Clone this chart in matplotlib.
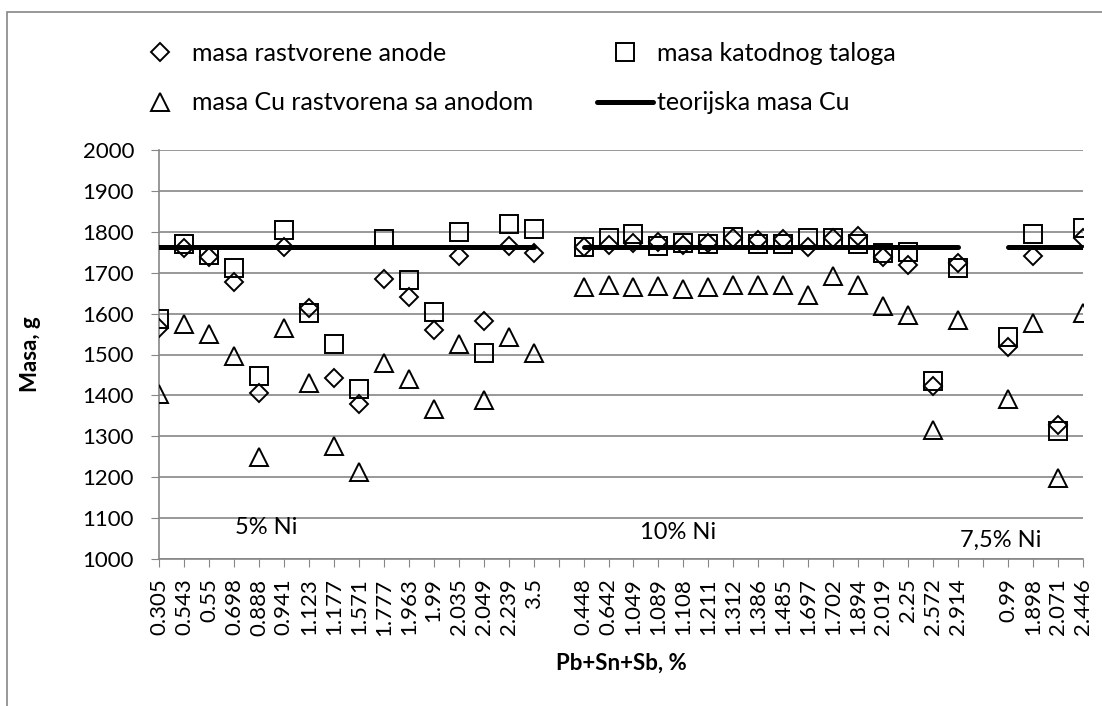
import numpy as np
import matplotlib.pyplot as plt
from matplotlib.patches import Rectangle

plt.rcParams['font.family'] = ['Lato', 'DejaVu Sans']

nan = np.nan

# x categories: three alloy groups separated by an empty slot
labels = ['0.305', '0.543', '0.55', '0.698', '0.888', '0.941', '1.123', '1.177',
          '1.571', '1.777', '1.963', '1.99', '2.035', '2.049', '2.239', '3.5', '',
          '0.448', '0.642', '1.049', '1.089', '1.108', '1.211', '1.312', '1.386',
          '1.485', '1.697', '1.702', '1.894', '2.019', '2.25', '2.572', '2.914', '',
          '0.99', '1.898', '2.071', '2.446']

anoda = [1564, 1760, 1738, 1678, 1405, 1764, 1613, 1442, 1378, 1684, 1640, 1560,
         1741, 1583, 1765, 1749, nan,
         1762, 1768, 1772, 1776, 1768, 1772, 1784, 1780, 1782, 1762, 1786, 1790,
         1739, 1719, 1423, 1723, nan,
         1519, 1741, 1328, 1784]

katoda = [1588, 1770, 1743, 1711, 1448, 1804, 1602, 1526, 1415, 1782, 1681, 1605,
          1799, 1504, 1819, 1808, nan,
          1762, 1786, 1794, 1765, 1772, 1770, 1788, 1770, 1770, 1786, 1786, 1770,
          1749, 1751, 1434, 1711, nan,
          1544, 1795, 1314, 1810]

cu_anoda = [1403, 1575, 1550, 1496, 1249, 1566, 1431, 1276, 1213, 1480, 1439, 1366,
            1526, 1389, 1542, 1503, nan,
            1664, 1669, 1666, 1667, 1661, 1664, 1669, 1669, 1671, 1645, 1691, 1669,
            1619, 1596, 1315, 1584, nan,
            1390, 1578, 1198, 1601]

teorija = [1762] * 16 + [nan] + [1762] * 16 + [nan] + [1762] * 4

grupe = ['5% Ni', '10% Ni', '7,5% Ni']

x = np.arange(len(labels))
gray = '#868686'

fig = plt.figure(figsize=(11.02, 7.06), dpi=100)
# chart frame (only top and left edges fall inside the image)
fig.patches.append(Rectangle((7 / 1102, -0.05), 1.2, 1.05 - 12 / 706,
                             transform=fig.transFigure, fill=False,
                             edgecolor=gray, lw=1.2, zorder=0))

ax = fig.add_axes([159 / 1102, 1 - 559 / 706, 924 / 1102, 409 / 706])

h1, = ax.plot(x, anoda, ls='none', marker='D', ms=9.5, mfc='none', mec='black',
              mew=1.4, label='masa rastvorene anode', zorder=3)
h2, = ax.plot(x, katoda, ls='none', marker='s', ms=13, mfc='none', mec='black',
              mew=1.4, label='masa katodnog taloga', zorder=3)
h3, = ax.plot(x, cu_anoda, ls='none', marker='^', ms=13, mfc='none', mec='black',
              mew=1.4, label='masa Cu rastvorena sa anodom', zorder=3)
h4, = ax.plot(x, teorija, color='black', lw=3.6, solid_capstyle='round',
              label='teorijska masa Cu', zorder=4)

ax.set_xlim(0, len(labels) - 1)
ax.set_ylim(1000, 2000)
ax.set_yticks(np.arange(1000, 2001, 100))
ax.set_xticks(x)
ax.set_xticklabels(labels, rotation=90, fontsize=16)
ax.tick_params(axis='y', labelsize=16, length=6, pad=12, color=gray, direction='out')
ax.tick_params(axis='x', length=6, pad=8, color=gray, direction='out')
ax.grid(axis='y', color=gray, lw=1.2)
ax.set_axisbelow(True)
for s in ['top', 'right']:
    ax.spines[s].set_visible(False)
for s in ['left', 'bottom']:
    ax.spines[s].set_color(gray)
    ax.spines[s].set_linewidth(1.2)

ax.set_ylabel('Masa, g', fontsize=16, fontweight='bold')
ax.yaxis.set_label_coords(-0.1396, 0.5)
ax.yaxis.label.set_va('center')
ax.set_xlabel('Pb+Sn+Sb, %', fontsize=16, fontweight='bold')
ax.xaxis.set_label_coords(0.5, -0.254)
ax.xaxis.label.set_va('center')

# group names inside the plot
ax.text(4.28, 1076, grupe[0], fontsize=17, ha='center', va='center')
ax.text(20.8, 1064, grupe[1], fontsize=17, ha='center', va='center')
ax.text(33.7, 1046, grupe[2], fontsize=17, ha='center', va='center')

# legend in two separate columns above the plot
leg_kw = dict(loc='upper left', frameon=False, fontsize=18, borderpad=0,
              borderaxespad=0, handlelength=2.25, handletextpad=0.15,
              labelspacing=1.05, numpoints=1)
fig.legend(handles=[h1, h3], bbox_transform=fig.transFigure,
           bbox_to_anchor=(132 / 1102, 1 - 42 / 706), **leg_kw)
fig.legend(handles=[h2, h4], bbox_transform=fig.transFigure,
           bbox_to_anchor=(597 / 1102, 1 - 42 / 706), **leg_kw)

fig.savefig('out.png', dpi=100)
